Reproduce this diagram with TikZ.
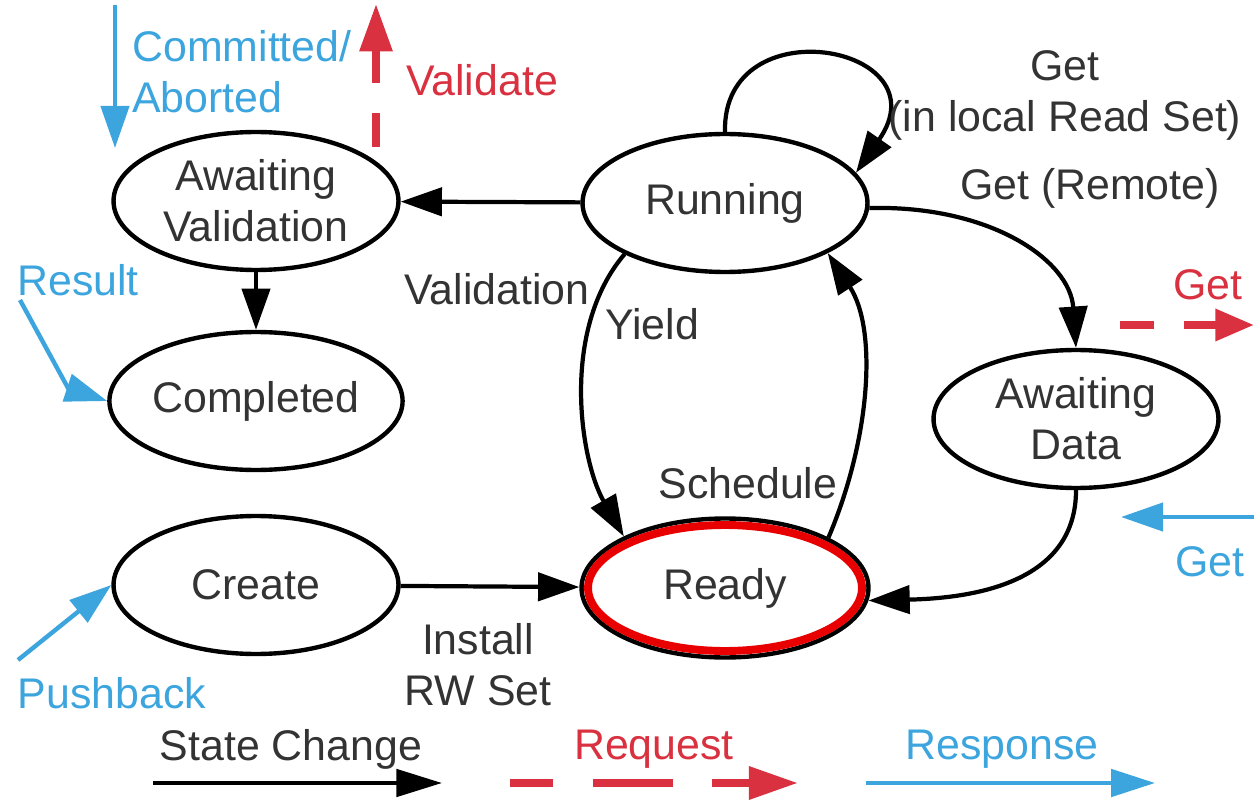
\documentclass[tikz,border=0pt]{standalone}
\usepackage{fontspec}
\setmainfont{Liberation Sans}
\usetikzlibrary{arrows.meta,shapes.geometric}
\definecolor{txtgray}{HTML}{333333}
\definecolor{respblue}{HTML}{3DA5DE}
\definecolor{reqred}{HTML}{D9313F}
\definecolor{readyred}{HTML}{E80000}

\begin{document}
\begin{tikzpicture}[x=0.02cm,y=-0.02cm,
  every node/.style={font=\fontsize{24.4}{29}\selectfont, text=txtgray, align=center, inner sep=0pt},
  state/.style={ellipse, draw=black, line width=2.5pt, minimum width=5.7cm, minimum height=2.76cm},
  change/.style={draw=black, line width=2.4pt, -{Triangle[length=23.5pt,width=16pt]}},
  response/.style={draw=respblue, line width=2.5pt, -{Triangle[length=24pt,width=16pt]}},
  request/.style={draw=reqred, line width=4.2pt, dash pattern=on 19.3pt off 17pt, -{Triangle[length=25pt,width=18pt]}},
  bluelbl/.style={text=respblue},
  redlbl/.style={text=reqred}]

\useasboundingbox (0,0) rectangle (1254,800);

% states
\node[state] (aval) at (256,201) {Awaiting\\Validation};
\node[state] (done) at (256,401) {Completed};
\node[state] (create) at (256,585) {Create};
\node[state] (run) at (725,203) {Running};
\node[state, minimum width=5.74cm, minimum height=2.78cm] (ready) at (725,588) {Ready};
\draw[readyred, line width=4.5pt] (ready.center) ellipse [x radius=2.74cm, y radius=1.26cm];
\node[state] (adata) at (1076,419) {Awaiting\\Data};

% state changes
\draw[change] (run) -- (aval);
\draw[change] (aval) -- (done);
\draw[change] (create) -- (ready);
\draw[change] (run.207) .. controls (560,330) and (580,460) .. (ready.153);
\draw[change] (ready.26) .. controls (870,440) and (878,330) .. (run.334);
\draw[change] (run.90) .. controls (722,5) and (945,45) .. (run.13);
\draw[change] (run.358) .. controls (990,205) and (1070,260) .. (adata.north);
\draw[change] (adata.south) .. controls (1076,580) and (980,598) .. (ready.355);

% edge labels
\node (lvalidation) at (497,289) {Validation};
\node (lyield) at (652,324) {Yield};
\node (lschedule) at (748,483) {Schedule};
\node (linstall) at (478,665) {Install\\RW Set};
\node (llocal) at (1065,95) {Get\\(in local Read Set)};
\node (lremote) at (1090,188) {Get (Remote)};

% responses and requests from outside
\coordinate (cmtA) at (115,5);
\coordinate (cmtB) at (115,148);
\draw[response] (cmtA) -- (cmtB);
\node[bluelbl, anchor=west, align=left] (lcommit) at (132,72) {Committed/\\Aborted};

\coordinate (valA) at (376,147);
\coordinate (valB) at (376,4);
\draw[request, -{Triangle[length=27pt,width=18pt]}] (valA) -- (valB);
\node[redlbl] (lvalidate) at (482,80) {Validate};

\coordinate (resA) at (20,300);
\coordinate (resB) at (68,388);
\draw[response] (resA) -- (resB) -- (done.west);
\node[bluelbl] (lresult) at (78,280) {Result};

\coordinate (pushA) at (18,660);
\draw[response] (pushA) -- (create.west);
\node[bluelbl] (lpush) at (112,693) {Pushback};

\coordinate (getreqA) at (1120,325);
\coordinate (getreqB) at (1254,325);
\draw[request, -{Triangle[length=22pt,width=17.5pt]}] (getreqA) -- (getreqB);
\node[redlbl] (lgetreq) at (1208,285) {Get};

\coordinate (getrespA) at (1254,517);
\coordinate (getrespB) at (1121,517);
\draw[response] (getrespA) -- (getrespB);
\node[bluelbl] (lgetresp) at (1210,562) {Get};

% legend
\coordinate (legA1) at (153,783);
\coordinate (legA2) at (442,783);
\draw[change, -{Triangle[length=26pt,width=15.5pt]}] (legA1) -- (legA2);
\node (legtA) at (291,749) {State Change};

\coordinate (legB1) at (510,783);
\coordinate (legB2) at (798,783);
\draw[request, line width=4.5pt, dash pattern=on 45.4pt off 22.7pt, dash phase=21pt,
      -{Triangle[length=28pt,width=18pt]}] (legB1) -- (legB2);
\node[redlbl] (legtB) at (654,749) {Request};

\coordinate (legC1) at (866,783);
\coordinate (legC2) at (1155,783);
\draw[response, -{Triangle[length=25pt,width=15.5pt]}] (legC1) -- (legC2);
\node[bluelbl] (legtC) at (1002,749) {Response};
\end{tikzpicture}
\end{document}
